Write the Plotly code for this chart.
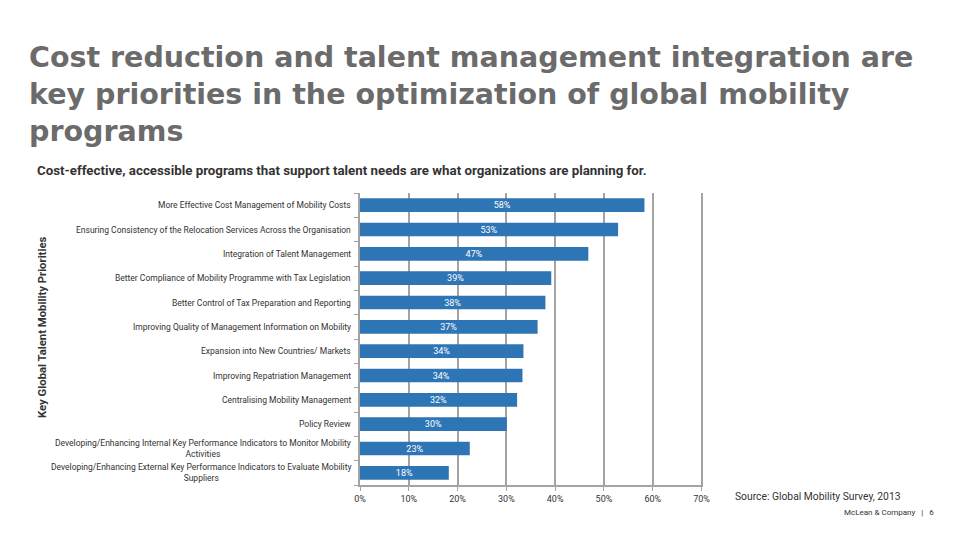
import plotly.graph_objects as go

categories = [
    "More Effective Cost Management of Mobility Costs",
    "Ensuring Consistency of the Relocation Services Across the Organisation",
    "Integration of Talent Management",
    "Better Compliance of Mobility Programme with Tax Legislation",
    "Better Control of Tax Preparation and Reporting",
    "Improving Quality of Management Information on Mobility",
    "Expansion into New Countries/ Markets",
    "Improving Repatriation Management",
    "Centralising Mobility Management",
    "Policy Review",
    "Developing/Enhancing Internal Key Performance Indicators to Monitor Mobility<br>Activities",
    "Developing/Enhancing External Key Performance Indicators to Evaluate Mobility<br>Suppliers",
]
values = [58.3, 52.9, 46.8, 39.2, 38.0, 36.4, 33.5, 33.3, 32.2, 30.1, 22.5, 18.2]
value_labels = ["58%", "53%", "47%", "39%", "38%", "37%", "34%", "34%", "32%", "30%", "23%", "18%"]
x_ticks = [0, 10, 20, 30, 40, 50, 60, 70]
x_tick_labels = ["0%", "10%", "20%", "30%", "40%", "50%", "60%", "70%"]

COND = "Roboto, Liberation Sans Narrow, sans-serif"
BAR = "#2E75B6"
GRID = "#a3a3a3"

ids = list(range(len(categories)))
boundaries = [i - 0.5 for i in range(len(categories) + 1)]

fig = go.Figure()
fig.add_trace(go.Bar(
    y=ids, x=values, orientation="h",
    marker=dict(color=BAR, line=dict(width=0)),
    text=value_labels, textposition="inside", insidetextanchor="middle",
    constraintext="none",
    textfont=dict(family=COND, size=9, color="white"),
    width=0.56, hoverinfo="skip",
))

for i, c in zip(ids, categories):
    fig.add_annotation(
        x=0, xref="paper", y=i, yref="y", text=c, showarrow=False,
        xanchor="right", yanchor="middle", xshift=-7, align="center",
        font=dict(family=COND, size=8.5, color="#333333"),
    )

fig.update_layout(
    width=960, height=540,
    margin=dict(l=360, r=257, t=193, b=55),
    paper_bgcolor="white", plot_bgcolor="white",
    showlegend=False,
    xaxis=dict(
        range=[0, 70.3], tickvals=x_ticks, ticktext=x_tick_labels,
        showgrid=True, gridcolor=GRID, gridwidth=2,
        showline=True, linecolor=GRID, linewidth=2,
        ticks="outside", ticklen=4, tickcolor=GRID, tickwidth=1,
        tickfont=dict(family=COND, size=9, color="#333333"),
        zeroline=False, fixedrange=True,
    ),
    yaxis=dict(
        range=[len(categories) - 0.5, -0.5],
        tickvals=boundaries, showticklabels=False,
        showgrid=False, showline=True, linecolor=GRID, linewidth=2,
        ticks="outside", ticklen=4, tickcolor=GRID,
        zeroline=False, fixedrange=True,
    ),
)

def px_x(p):
    return (p - 360) / (960 - 360 - 257)

def px_y(p):
    return 1 - (p - 193) / (540 - 193 - 55)

fig.add_annotation(
    x=px_x(27), y=px_y(39), xref="paper", yref="paper", xanchor="left", yanchor="top",
    align="left", showarrow=False,
    text="<b>Cost reduction and talent management integration are<br>key priorities in the optimization of global mobility<br>programs</b>",
    font=dict(family="DejaVu Sans, sans-serif", size=28.5, color="#6b6b6b"),
)
fig.add_annotation(
    x=px_x(35), y=px_y(171), xref="paper", yref="paper", xanchor="left", yanchor="middle",
    showarrow=False,
    text="<b>Cost-effective, accessible programs that support talent needs are what organizations are planning for.</b>",
    font=dict(family=COND, size=13.3, color="#333333"),
)
fig.add_annotation(
    x=px_x(42), y=px_y(327), xref="paper", yref="paper", xanchor="center", yanchor="middle",
    showarrow=False, textangle=-90,
    text="<b>Key Global Talent Mobility Priorities</b>",
    font=dict(family=COND, size=11.3, color="#333333"),
)
fig.add_annotation(
    x=px_x(733), y=px_y(496), xref="paper", yref="paper", xanchor="left", yanchor="middle",
    showarrow=False, text="Source: Global Mobility Survey, 2013",
    font=dict(family=COND, size=10.3, color="#333333"),
)
fig.add_annotation(
    x=px_x(936), y=px_y(512), xref="paper", yref="paper", xanchor="right", yanchor="middle",
    showarrow=False, text="McLean &amp; Company   |   6",
    font=dict(family=COND, size=8, color="#333333"),
)

fig.write_html("out.html", config={"displayModeBar": False},
               post_script="document.body.style.margin='0px';")
